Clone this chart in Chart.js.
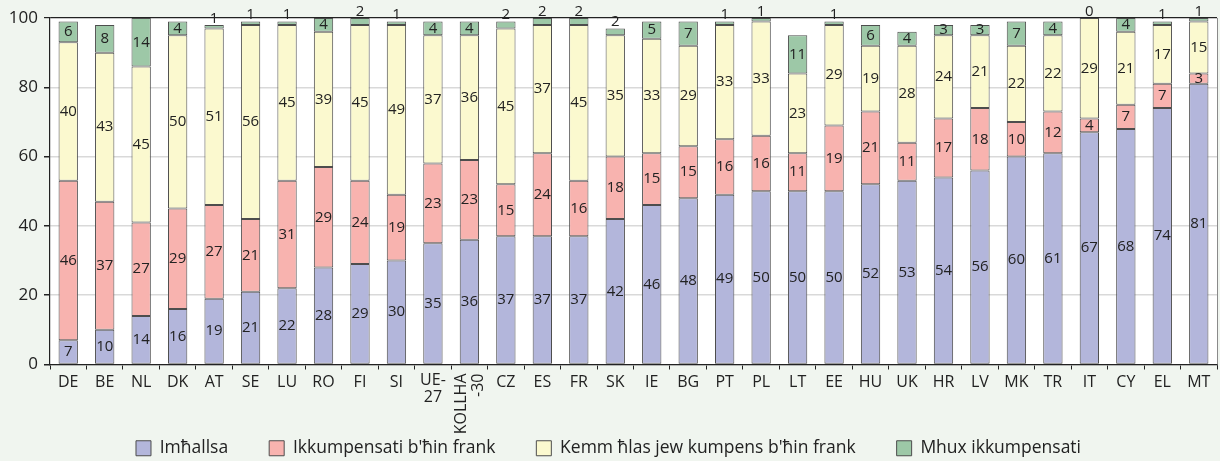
<!DOCTYPE html>
<html>
<head>
<meta charset="utf-8">
<script src="https://cdn.jsdelivr.net/npm/chart.js@4/dist/chart.umd.min.js"></script>
<style>
  html, body { margin: 0; padding: 0; background: #f0f5ef; }
  #wrap { width: 1220px; height: 461px; }
</style>
</head>
<body>
<div id="wrap"><canvas id="chart"></canvas></div>
<script>
// categories (UE-27 and KOLLHA-30 are drawn by the plugin below)
const countries = ["DE", "BE", "NL", "DK", "AT", "SE", "LU", "RO", "FI", "SI",
  "UE-27", "KOLLHA-30", "CZ", "ES", "FR", "SK", "IE", "BG", "PT", "PL",
  "LT", "EE", "HU", "UK", "HR", "LV", "MK", "TR", "IT", "CY", "EL", "MT"];

const imhallsa     = [7, 10, 14, 16, 19, 21, 22, 28, 29, 30, 35, 36, 37, 37, 37, 42, 46, 48, 49, 50, 50, 50, 52, 53, 54, 56, 60, 61, 67, 68, 74, 81];
const ikkumpensati = [46, 37, 27, 29, 27, 21, 31, 29, 24, 19, 23, 23, 15, 24, 16, 18, 15, 15, 16, 16, 11, 19, 21, 11, 17, 18, 10, 12, 4, 7, 7, 3];
const kemmHlas     = [40, 43, 45, 50, 51, 56, 45, 39, 45, 49, 37, 36, 45, 37, 45, 35, 33, 29, 33, 33, 23, 29, 19, 28, 24, 21, 22, 22, 29, 21, 17, 15];
const mhux         = [6, 8, 14, 4, 1, 1, 1, 4, 2, 1, 4, 4, 2, 2, 2, 2, 5, 7, 1, 1, 11, 1, 6, 4, 3, 3, 7, 4, 0, 4, 1, 1];

const yTicks = [0, 20, 40, 60, 80, 100];

const FONT = "'Open Sans', 'Noto Sans', sans-serif";
const TXT = "#222";

// plot background + right edge
const bgPlugin = {
  id: "bg",
  beforeDraw(chart) {
    const { ctx, chartArea: a } = chart;
    ctx.save();
    ctx.fillStyle = "#f0f5ef";
    ctx.fillRect(0, 0, chart.width, chart.height);
    ctx.fillStyle = "#ffffff";
    ctx.fillRect(a.left, a.top, a.right - a.left, a.bottom - a.top);
    ctx.restore();
  },
  afterDraw(chart) {
    const { ctx, chartArea: a } = chart;
    ctx.save();
    ctx.strokeStyle = "#8a8a8a";
    ctx.lineWidth = 1;
    ctx.beginPath();
    ctx.moveTo(a.right + 0.5, a.top);
    ctx.lineTo(a.right + 0.5, a.bottom);
    ctx.stroke();
    ctx.restore();
  }
};

// numbers inside the segments
const valuePlugin = {
  id: "values",
  afterDatasetsDraw(chart) {
    const ctx = chart.ctx;
    ctx.save();
    ctx.font = "15px " + FONT;
    ctx.fillStyle = TXT;
    ctx.textAlign = "center";
    chart.data.datasets.forEach((ds, di) => {
      const meta = chart.getDatasetMeta(di);
      meta.data.forEach((bar, i) => {
        const v = ds.data[i];
        if (di === 3 && v <= 2) {
          ctx.textBaseline = "alphabetic";
          ctx.fillText(String(v), bar.x, Math.min(bar.y, bar.base) - 2);
        } else {
          ctx.textBaseline = "middle";
          ctx.fillText(String(v), bar.x, (bar.y + bar.base) / 2);
        }
      });
    });
    ctx.restore();
  }
};

// the two odd tick labels: UE-27 on two lines, KOLLHA-30 rotated
const oddLabels = {
  id: "oddlabels",
  afterDraw(chart) {
    const x = chart.scales.x;
    const top = chart.chartArea.bottom + 8;
    const ctx = chart.ctx;
    ctx.save();
    ctx.font = "16px " + FONT;
    ctx.fillStyle = TXT;
    ctx.textBaseline = "top";
    ctx.textAlign = "center";
    const ue = x.getPixelForValue(10);
    ctx.fillText("UE-", ue, top);
    ctx.fillText("27", ue, top + 17);

    const k = x.getPixelForValue(11);
    ctx.translate(k - 8, top + 1);
    ctx.rotate(-Math.PI / 2);
    ctx.textAlign = "right";
    ctx.textBaseline = "middle";
    ctx.fillText("KOLLHA", 0, 0);
    ctx.fillText("-30", 0, 17);
    ctx.restore();
  }
};

const segBorder = "#4d4d4d";
function seg(label, data, color) {
  return {
    label: label,
    data: data,
    backgroundColor: color,
    borderColor: segBorder,
    borderWidth: 1,
    borderSkipped: false,
    barPercentage: 0.53,
    categoryPercentage: 1.0
  };
}

new Chart(document.getElementById("chart"), {
  type: "bar",
  data: {
    labels: countries,
    datasets: [
      seg("Imħallsa", imhallsa, "#b3b6db"),
      seg("Ikkumpensati b'ħin frank", ikkumpensati, "#f8b3af"),
      seg("Kemm ħlas jew kumpens b'ħin frank", kemmHlas, "#fbf9cf"),
      seg("Mhux ikkumpensati", mhux, "#9dc8a7")
    ]
  },
  options: {
    responsive: true,
    maintainAspectRatio: false,
    animation: false,
    layout: { padding: { left: 0, right: 3, top: 18, bottom: -6 } },
    plugins: {
      tooltip: { enabled: false },
      legend: {
        position: "bottom",
        labels: {
          boxWidth: 15,
          boxHeight: 15,
          padding: 41,
          color: TXT,
          font: { size: 17.5, family: FONT }
        }
      }
    },
    scales: {
      x: {
        stacked: true,
        afterFit(s) { s.height = 34; },
        grid: { drawOnChartArea: false, tickLength: 5, tickColor: "#222", offset: true },
        border: { color: "#222", width: 1.2 },
        ticks: {
          color: TXT,
          padding: 3,
          maxRotation: 0,
          autoSkip: false,
          font: { size: 16, family: FONT },
          callback(v, i) { return i === 10 || i === 11 ? "" : countries[i]; }
        }
      },
      y: {
        stacked: true,
        min: 0,
        max: 100,
        afterFit(s) { s.width = 50; },
        afterBuildTicks(s) { s.ticks = yTicks.map(v => ({ value: v })); },
        grid: {
          color: c => (c.tick && c.tick.value === 100 ? "#222" : "#d9d9d9"),
          lineWidth: c => (c.tick && c.tick.value === 100 ? 1.2 : 1.5),
          tickColor: "#222",
          tickLength: 6
        },
        border: { color: "#222", width: 1.2 },
        ticks: { color: TXT, padding: 6, font: { size: 17, family: FONT } }
      }
    }
  },
  plugins: [bgPlugin, valuePlugin, oddLabels]
});
</script>
</body>
</html>
